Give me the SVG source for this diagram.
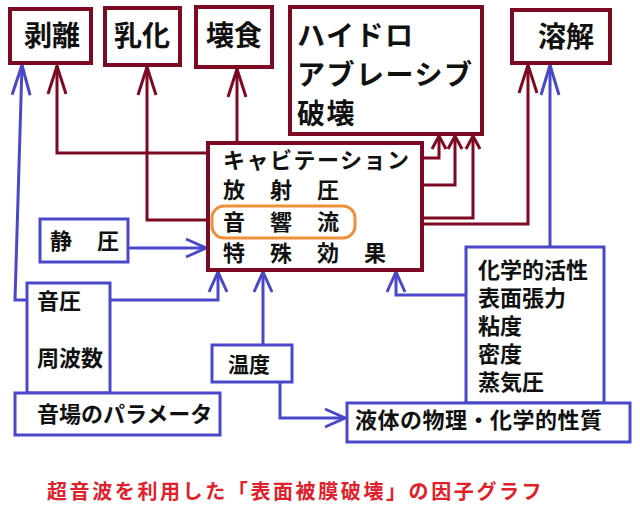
<svg xmlns="http://www.w3.org/2000/svg" width="640" height="520" viewBox="0 0 640 520">
<style>
.t{font-family:"Noto Sans CJK JP","Noto Sans CJK SC",sans-serif;font-weight:bold;fill:#111}
.big{font-size:28px}
.mid{font-size:22px}
.rb{fill:#fff;stroke:#7d0a22;stroke-width:4}
.bb{fill:#fff;stroke:#4a48c8;stroke-width:3}
.rc{fill:none;stroke:#7d0a22;stroke-width:3}
.bc{fill:none;stroke:#4a48c8;stroke-width:3}
</style>
<defs>
<marker id="rBig" markerUnits="userSpaceOnUse" viewBox="-2 -2 32 24" refX="28" refY="9" markerWidth="32" markerHeight="24" orient="auto"><path d="M0,0 L28,9 L0,18" fill="none" stroke="#7d0a22" stroke-width="3"/></marker>
<marker id="rSm" markerUnits="userSpaceOnUse" viewBox="-2 -2 18 18" refX="13" refY="7" markerWidth="18" markerHeight="18" orient="auto"><path d="M0,0 L13,7 L0,14" fill="none" stroke="#7d0a22" stroke-width="3"/></marker>
<marker id="bBig" markerUnits="userSpaceOnUse" viewBox="-2 -2 34 24" refX="30" refY="9" markerWidth="34" markerHeight="24" orient="auto"><path d="M0,0 L30,9 L0,18" fill="none" stroke="#4a48c8" stroke-width="3"/></marker>
<marker id="bMid" markerUnits="userSpaceOnUse" viewBox="-2 -2 24 24" refX="20" refY="9" markerWidth="24" markerHeight="24" orient="auto"><path d="M0,0 L20,9 L0,18" fill="none" stroke="#4a48c8" stroke-width="3"/></marker>
</defs>
<rect width="640" height="520" fill="#fff"/>
<g id="connectors">
<path class="rc" d="M208,153 H57 V66" marker-end="url(#rBig)"/>
<path class="rc" d="M208,220 H147 V67" marker-end="url(#rBig)"/>
<path class="rc" d="M237,143 V69" marker-end="url(#rBig)"/>
<path class="rc" d="M422,158 H439 V136" marker-end="url(#rSm)"/>
<path class="rc" d="M422,185 H455 V136" marker-end="url(#rSm)"/>
<path class="rc" d="M422,218 H473 V136" marker-end="url(#rSm)"/>
<path class="rc" d="M422,224 H528 V65" marker-end="url(#rBig)"/>
<path class="bc" d="M27,300 H15 L22,65" marker-end="url(#bBig)"/>
<path class="bc" d="M128,248 H206" marker-end="url(#bMid)"/>
<path class="bc" d="M110,300 H218 V272" marker-end="url(#bMid)"/>
<path class="bc" d="M263,345 V272" marker-end="url(#bMid)"/>
<path class="bc" d="M280,382 V418 H345" marker-end="url(#bMid)"/>
<path class="bc" d="M466,295 H396 V272" marker-end="url(#bMid)"/>
<path class="bc" d="M550,247 V65" marker-end="url(#bBig)"/>
</g>
<g id="hakuri"><rect class="rb" x="10" y="9" width="81" height="54"/><text class="t big" x="52" y="46" text-anchor="middle">剥離</text></g>
<g id="nyuka"><rect class="rb" x="105" y="8" width="75" height="57"/><text class="t big" x="142" y="46" text-anchor="middle">乳化</text></g>
<g id="kaishoku"><rect class="rb" x="196" y="7" width="76" height="60"/><text class="t big" x="234" y="46" text-anchor="middle">壊食</text></g>
<g id="hydro"><rect class="rb" x="290" y="7" width="192" height="127"/>
<text class="t big" x="297" y="46" letter-spacing="1.5">ハイドロ</text>
<text class="t big" x="297" y="85" letter-spacing="1.5">アブレーシブ</text>
<text class="t big" x="297" y="124" letter-spacing="1.5">破壊</text></g>
<g id="yokai"><rect class="rb" x="512" y="10" width="98" height="53"/><text class="t big" x="566" y="47" text-anchor="middle">溶解</text></g>
<g id="cavitation"><rect class="rb" x="208" y="143" width="214" height="127"/>
<text class="t mid" x="223" y="168" letter-spacing="1.5">キャビテーション</text>
<text class="t mid" x="223" y="198" letter-spacing="1.5">放　射　圧</text>
<text class="t mid" x="223" y="230" letter-spacing="1.5">音　響　流</text>
<text class="t mid" x="223" y="261" letter-spacing="1.5">特　殊　効　果</text>
<rect x="212" y="206" width="143" height="32" rx="12" fill="none" stroke="#f0903a" stroke-width="3"/></g>
<g id="seiatsu"><rect class="bb" x="40" y="219" width="88" height="43"/><text class="t mid" x="50" y="249" letter-spacing="1.5">静　圧</text></g>
<g id="onatsu"><rect class="bb" x="27" y="283" width="83" height="110"/>
<text class="t mid" x="37" y="309">音圧</text>
<text class="t mid" x="37" y="366">周波数</text></g>
<g id="onba"><rect class="bb" x="15" y="393" width="205" height="42"/><text class="t mid" x="37" y="422">音場のパラメータ</text></g>
<g id="ondo"><rect class="bb" x="212" y="345" width="80" height="37"/><text class="t" font-size="21" x="228" y="372">温度</text></g>
<g id="kagaku"><rect class="bb" x="466" y="247" width="138" height="156"/>
<text class="t mid" x="478" y="278">化学的活性</text>
<text class="t mid" x="478" y="306">表面張力</text>
<text class="t mid" x="478" y="334">粘度</text>
<text class="t mid" x="478" y="362">密度</text>
<text class="t mid" x="478" y="390">蒸気圧</text></g>
<g id="ekitai"><rect class="bb" x="347" y="403" width="283" height="39"/><text class="t mid" x="355" y="428" letter-spacing="0.5">液体の物理・化学的性質</text></g>
<text class="t" x="47" y="499" font-size="20" letter-spacing="2.6" style="fill:#e0202a">超音波を利用した「表面被膜破壊」の因子グラフ</text>
</svg>
